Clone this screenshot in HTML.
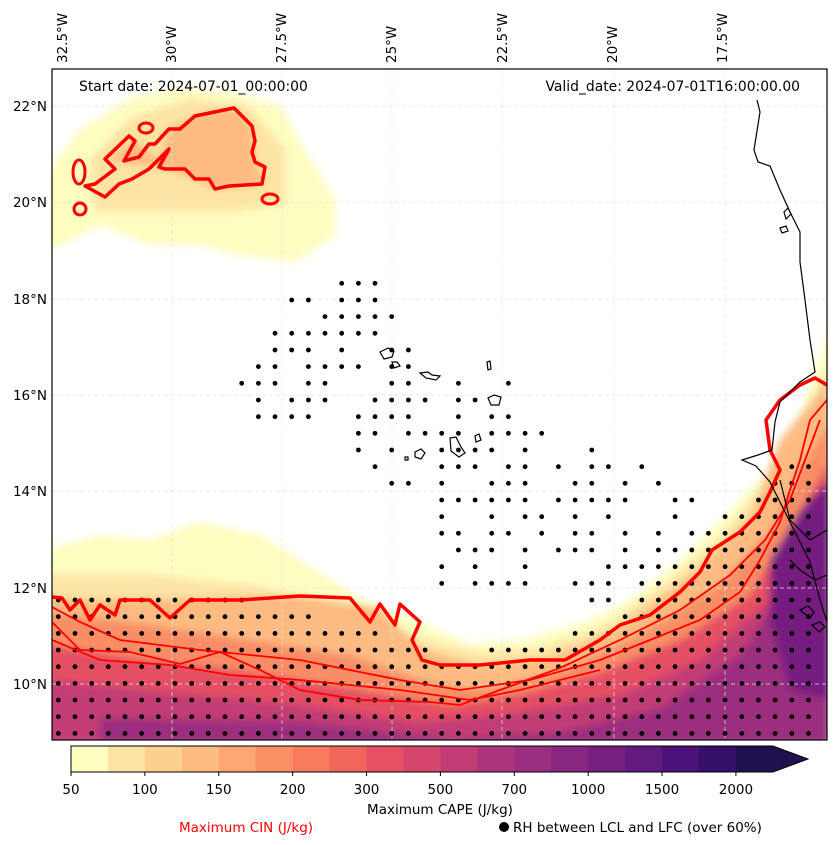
<!DOCTYPE html>
<html><head><meta charset="utf-8"><style>
html,body{margin:0;padding:0;background:#fff;width:837px;height:845px;overflow:hidden}
svg{display:block;font-family:"DejaVu Sans","Liberation Sans",sans-serif}
</style></head><body>
<svg id="chart" width="837" height="845" viewBox="0 0 837 845">
<defs>
<clipPath id="mapclip"><rect x="52" y="69" width="775" height="671"/></clipPath>
<filter id="blur" x="-5%" y="-5%" width="110%" height="110%"><feGaussianBlur stdDeviation="4"/></filter>
</defs>
<g clip-path="url(#mapclip)">
 <rect x="52" y="69" width="775" height="671" fill="#fff"/>
 <g filter="url(#blur)">
  <polygon fill="#fdfdc0" points="45,175 80,130 130,98 180,88 230,92 280,105 305,150 335,200 335,235 295,262 240,255 200,245 150,245 100,225 60,245 45,250"/>
  <polygon fill="#fde4a4" points="90,160 130,118 190,98 250,106 285,150 285,205 220,212 150,212 95,212"/>
  <polygon fill="#fdbb81" points="105,160 135,141 159,159 169,129 195,116 234,108 252,126 255,160 265,184 215,189 195,179 165,169"/>
  <polygon fill="#fdfdc0" points="45,550 100,535 150,540 200,522 260,535 300,560 360,598 420,622 470,644 520,640 580,624 630,600 680,560 720,520 760,480 800,415 830,325 830,745 45,745"/>
  <polygon fill="#fde4a4" points="45,575 150,575 250,585 350,606 420,638 480,652 540,648 600,628 660,588 720,538 760,488 800,420 830,365 830,745 45,745"/>
  <polygon fill="#fdbb81" points="45,598 100,600 200,598 300,596 380,608 420,648 480,666 550,658 620,628 700,568 750,518 780,440 830,378 830,745 45,745"/>
  <polygon fill="#f98e66" points="45,612 150,625 250,640 350,655 420,680 480,690 550,675 640,635 720,585 770,530 800,470 830,420 830,745 45,745"/>
  <polygon fill="#e55063" points="45,645 150,660 250,672 350,688 450,705 520,694 600,672 680,640 750,595 795,520 830,460 830,745 45,745"/>
  <polygon fill="#c23c75" points="45,680 200,695 300,705 420,722 520,712 620,695 700,660 770,600 805,530 830,490 830,745 45,745"/>
  <polygon fill="#9c2e7f" points="100,718 300,722 450,740 560,732 660,708 740,655 790,580 830,520 830,745 100,745"/>
  <polygon fill="#761f80" points="770,560 800,510 830,480 830,700 790,690 770,620"/>
 </g>
 <g stroke="#e4e4e4" stroke-width="0.7" stroke-dasharray="4,3" fill="none">
  <line x1="52" y1="106" x2="827" y2="106"/><line x1="52" y1="202" x2="827" y2="202"/>
  <line x1="52" y1="299" x2="827" y2="299"/><line x1="52" y1="395" x2="827" y2="395"/>
  <line x1="52" y1="491" x2="827" y2="491"/><line x1="52" y1="588" x2="827" y2="588"/>
  <line x1="52" y1="684" x2="827" y2="684"/>
  <line x1="172" y1="69" x2="172" y2="740"/><line x1="282" y1="69" x2="282" y2="740"/>
  <line x1="392" y1="69" x2="392" y2="740"/><line x1="502" y1="69" x2="502" y2="740"/>
  <line x1="614" y1="69" x2="614" y2="740"/><line x1="725" y1="69" x2="725" y2="740"/>
 </g>
 <g id="dots" fill="#000"></g>
 <g fill="none" stroke="#f00">
  <polygon stroke-width="3.5" stroke-linejoin="round" points="85,186 105,197 119,184 132,179 149,169 159,159 169,149 159,167 165,169 185,169 195,179 209,179 215,189 229,186 262,184 265,167 255,162 252,152 255,141 252,126 234,108 195,116 180,129 169,129 155,144 149,144 139,157 124,161 135,141 129,136 105,159 115,169 95,184"/>
  <ellipse cx="79" cy="172" rx="6" ry="12" stroke-width="3"/>
  <ellipse cx="80" cy="209" rx="6" ry="6" stroke-width="3"/>
  <ellipse cx="146" cy="128" rx="7" ry="5" stroke-width="3"/>
  <ellipse cx="270" cy="199" rx="8" ry="5" stroke-width="3"/>
  <polyline stroke-width="3.5" stroke-linejoin="round" points="52,597 62,598 70,610 80,600 90,620 100,605 115,615 120,600 150,600 170,618 190,600 240,600 300,596 350,598 370,622 380,604 395,625 400,604 420,622 412,640 422,660 440,665 480,665 530,660 565,660 600,640 620,625 650,615 680,592 700,572 712,550 740,532 760,512 770,492 780,470 770,450 766,420 780,400 800,385 815,378 827,385"/>
  <polyline stroke-width="1.8" points="52,607 80,622 120,640 200,650 300,660 400,680 460,690 530,680 600,660 650,640 700,620 740,592 760,560 780,522 790,490 800,460 810,420 827,400"/>
  <polyline stroke-width="1.8" points="52,622 80,650 130,652 180,664 220,652 260,670 300,690 360,700 430,702 460,705 500,690 560,668 620,640 680,610 730,575 765,540 790,500 805,460 820,420"/>
  <polyline stroke-width="1.8" points="52,640 100,660 170,665 230,675 300,680 400,690 470,700 520,690 600,670"/>
 </g>
 <g fill="none" stroke="#000" stroke-width="1.2">
  <polyline points="757,100 760,112 754,150 758,162 770,166 780,190 790,212 800,232 800,262 805,300 810,340 815,372 800,382 790,392 780,402 775,422 772,450 758,455 742,460 756,466 770,482 780,502 790,522 800,542 810,562 820,600 827,622"/>
  <path d="M380 352 l8 -4 6 3 -2 6 -8 2 z M392 362 l5 0 3 4 -6 2 z M420 373 l8 -1 4 3 8 1 -4 4 -10 -2 z M487 362 l3 -1 1 8 -3 1 z M488 398 l6 -3 7 2 -2 8 -8 0 z M450 438 l6 -1 5 10 4 6 -6 4 -8 -6 z M475 436 l4 -2 2 6 -5 2 z M415 452 l6 -3 4 4 -4 6 -6 -2 z M405 457 l3 0 0 3 -3 0 z M784 212 l4 -4 3 6 -5 5 z M780 228 l6 -2 2 5 -6 2 z"/>
  <polyline points="780,480 785,500 790,520 800,530 810,540 827,530"/>
  <polyline points="790,560 800,570 815,580 827,575"/>
  <path d="M800 610 l8 -4 6 6 -4 6 z M812 625 l8 -3 5 5 -6 5 z"/>
 </g>
</g>
<rect x="52" y="69" width="775" height="671" fill="none" stroke="#000" stroke-width="1.2"/>
<text x="79" y="91" font-size="13.9">Start date: 2024-07-01_00:00:00</text>
<text x="800" y="91" font-size="13.9" text-anchor="end">Valid_date: 2024-07-01T16:00:00.00</text>
<g font-size="13.5" fill="#000" text-anchor="end">
 <text x="47" y="111">22°N</text><text x="47" y="207">20°N</text><text x="47" y="304">18°N</text>
 <text x="47" y="400">16°N</text><text x="47" y="496">14°N</text><text x="47" y="593">12°N</text><text x="47" y="689">10°N</text>
</g>
<g font-size="13.5" fill="#000">
 <text transform="translate(67,63) rotate(-90)">32.5°W</text>
 <text transform="translate(176,63) rotate(-90)">30°W</text>
 <text transform="translate(286,63) rotate(-90)">27.5°W</text>
 <text transform="translate(396,63) rotate(-90)">25°W</text>
 <text transform="translate(507,63) rotate(-90)">22.5°W</text>
 <text transform="translate(617,63) rotate(-90)">20°W</text>
 <text transform="translate(727,63) rotate(-90)">17.5°W</text>
</g>
<g id="cbar"></g>
<text x="440" y="814" font-size="13.5" text-anchor="middle">Maximum CAPE (J/kg)</text>
<text x="246" y="832" font-size="13.5" fill="#f00" text-anchor="middle">Maximum CIN (J/kg)</text>
<circle cx="504" cy="827" r="5" fill="#000"/>
<text x="513" y="832" font-size="13.5">RH between LCL and LFC (over 60%)</text>
</svg>
<script>
const cbarColors = ["#fcfdbf","#fde3a3","#fed08e","#fdbb81","#fea673","#fc9065","#f97b5d","#f1665a","#e55064","#d6456c","#c33c75","#ae347b","#9c2e7f","#882781","#761f80","#631a7f","#4c117a","#341069","#221150"];
const cbarTicks = ["50","100","150","200","300","500","700","1000","1500","2000"];
const NS="http://www.w3.org/2000/svg";
const cb=document.getElementById('cbar');
const cx0=71, segW=36.94, cy0=746, cH=26, tipX=808;
cbarColors.forEach((c,i)=>{
  const r=document.createElementNS(NS,'rect');
  r.setAttribute('x',cx0+i*segW);r.setAttribute('y',cy0);r.setAttribute('width',segW+0.5);r.setAttribute('height',cH);r.setAttribute('fill',c);
  
  
  cb.appendChild(r);
});
const xr=cx0+cbarColors.length*segW;
const tri=document.createElementNS(NS,'polygon');
tri.setAttribute('points',(xr-0.5)+','+cy0+' '+tipX+','+(cy0+cH/2)+' '+(xr-0.5)+','+(cy0+cH));
tri.setAttribute('fill',cbarColors[cbarColors.length-1]);


cb.appendChild(tri);
const out=document.createElementNS(NS,'polygon');
out.setAttribute('points',cx0+','+cy0+' '+xr+','+cy0+' '+tipX+','+(cy0+cH/2)+' '+xr+','+(cy0+cH)+' '+cx0+','+(cy0+cH));
out.setAttribute('fill','none');out.setAttribute('stroke','#000');out.setAttribute('stroke-width','1');


cb.appendChild(out);
cbarTicks.forEach((t,i)=>{
  const x=cx0+i*2*segW;
  const l=document.createElementNS(NS,'line');
  l.setAttribute('x1',x);l.setAttribute('x2',x);l.setAttribute('y1',cy0+cH);l.setAttribute('y2',cy0+cH+4);l.setAttribute('stroke','#000');
  
  
  cb.appendChild(l);
  const tx=document.createElementNS(NS,'text');
  tx.setAttribute('x',x);tx.setAttribute('y',794);tx.setAttribute('font-size','13.5');tx.setAttribute('text-anchor','middle');
  tx.textContent=t;
  
  
  cb.appendChild(tx);
});
const bandMask=[[52,590],[130,594],[250,598],[400,640],[460,655],[520,645],[600,625],[650,595],[700,545],[740,512],[780,472],[800,462],[827,445],[827,745],[45,745],[45,590]];
const midMask=[[272,318],[300,288],[380,278],[405,330],[470,378],[520,378],[522,420],[600,452],[650,462],[700,505],[760,500],[800,470],[827,470],[827,520],[700,560],[640,600],[600,612],[560,598],[430,588],[420,540],[380,472],[300,420],[255,422],[238,382],[265,350]];
function inPoly(x,y,p){let c=false;for(let i=0,j=p.length-1;i<p.length;j=i++){const xi=p[i][0],yi=p[i][1],xj=p[j][0],yj=p[j][1];if(((yi>y)!=(yj>y))&&(x<(xj-xi)*(y-yi)/(yj-yi)+xi))c=!c;}return c;}
function holeAt(m,k){const h=((m*73856093)^(k*19349663))>>>0;return (h%100)<40;}
const dg=document.getElementById('dots');
for(let k=-15;k<25;k++){
  const y=333.3+16.67*k;
  if(y<75||y>738)continue;
  for(let m=3;m<50;m++){
    const x=8.3+16.67*m;
    if(x>825)continue;
    const inBand=inPoly(x,y,bandMask);
    const inMid=!inBand&&inPoly(x,y,midMask)&&!holeAt(m,k);
    if(inBand||inMid){
      const c=document.createElementNS(NS,'circle');
      c.setAttribute('cx',x.toFixed(1));c.setAttribute('cy',y.toFixed(1));c.setAttribute('r','2.4');
      
      
      dg.appendChild(c);
    }
  }
}
</script>
</body></html>
